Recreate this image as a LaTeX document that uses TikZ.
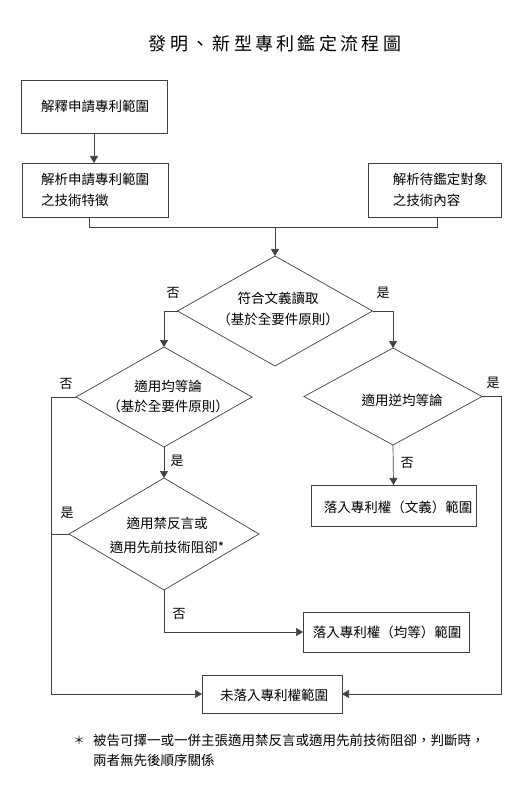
\documentclass[tikz,border=0pt]{standalone}
\usepackage{fontspec}
\setmainfont{Noto Sans CJK TC}
\usetikzlibrary{shapes.geometric,arrows.meta}
\newcommand{\tc}[1]{\makebox[21.3pt]{#1}}
\tikzset{
  ln/.style={draw=black!75, line width=0.7pt},
  arr/.style={ln, -{Triangle[length=7pt,width=8pt]}},
  box/.style={draw=black!75, line width=0.7pt, rectangle, inner sep=0pt, outer sep=0pt},
  dia/.style={draw=black!75, line width=0.7pt, diamond, inner sep=0pt, outer sep=0pt},
  txt/.style={font=\fontsize{13.5pt}{21pt}\selectfont, align=center, inner sep=0pt},
  lbl/.style={font=\fontsize{13pt}{13pt}\selectfont, inner sep=0pt}
}
\begin{document}
\begin{tikzpicture}[x=1pt,y=-1pt]
\useasboundingbox (0,0) rectangle (531,791);
% title
\node[inner sep=0pt, font=\fontsize{18pt}{18pt}\selectfont] (title) at (275,44)
  {\tc{發}\tc{明}\tc{、}\tc{新}\tc{型}\tc{專}\tc{利}\tc{鑑}\tc{定}\tc{流}\tc{程}\tc{圖}};
% boxes
\node[box, minimum width=146pt, minimum height=53pt] (b1) at (94,106.5) {};
\node[txt] (t1) at (95,106.5) {解釋申請專利範圍};
\node[box, minimum width=146pt, minimum height=54pt] (b2) at (95,190) {};
\node[txt, align=left] (t2) at (95,190) {解析申請專利範圍\\之技術特徵};
\node[box, minimum width=133pt, minimum height=54pt] (b3) at (434.5,190) {};
\node[txt, align=left] (t3) at (440,190) {解析待鑑定對象\\之技術內容};
% diamonds
\node[dia, minimum width=195pt, minimum height=110pt] (d1) at (275,311) {};
\node[txt] (t4) at (278,309) {符合文義讀取\\（基於全要件原則）};
\node[dia, minimum width=176pt, minimum height=100pt] (d2) at (164,397) {};
\node[txt, font=\fontsize{13.5pt}{20pt}\selectfont] (t5) at (168,396) {適用均等論\\（基於全要件原則）};
\node[dia, minimum width=178pt, minimum height=97pt] (d3) at (393,396.5) {};
\node[txt] (t6) at (402,400) {適用逆均等論};
\node[dia, minimum width=190pt, minimum height=112pt] (d4) at (164,534) {};
\node[txt, font=\fontsize{13.5pt}{24pt}\selectfont] (t7) at (167,535) {適用禁反言或\\適用先前技術阻卻*};
% result boxes
\node[box, minimum width=165pt, minimum height=41pt] (b4) at (393.5,505.5) {};
\node[txt] (t8) at (398,507) {落入專利權（文義）範圍};
\node[box, minimum width=166pt, minimum height=40pt] (b5) at (386,632) {};
\node[txt] (t9) at (387,632) {落入專利權（均等）範圍};
\node[box, minimum width=140pt, minimum height=38pt] (b6) at (272,694) {};
\node[txt] (t10) at (274,695) {未落入專利權範圍};
% helper coordinates
\coordinate (j) at (275,227);
\coordinate (cl) at (51,694);
\coordinate (cr) at (501,694);
% connectors
\draw[arr] (b1.south) -- (b1.south |- b2.north);
\draw[ln] (b2.south -| 89,0) |- (j);
\draw[ln] (b3.south -| 437,0) |- (j);
\draw[arr] (j) -- (d1.north);
\draw[arr] (d1.west) -| (d2.north);
\draw[arr] (d1.east) -| (d3.north);
\draw[arr] (d2.south) -- (d4.north);
\draw[arr] (d3.south) -- (b4.north);
\draw[arr] (d4.south) |- (b5.west);
\draw[arr] (d2.west) -| (cl) -- (b6.west);
\draw[ln] (d4.west) -- (d4.west -| cl);
\draw[arr] (d3.east) -| (cr) -- (b6.east);
% labels
\node[lbl] (l1) at (173,293) {否};
\node[lbl] (l2) at (383,293) {是};
\node[lbl] (l3) at (66,384) {否};
\node[lbl] (l4) at (177,461) {是};
\node[lbl] (l5) at (493,383) {是};
\node[lbl] (l6) at (407,463) {否};
\node[lbl] (l7) at (67,513) {是};
\node[lbl] (l8) at (179,614) {否};
% footnote
\node[lbl, font=\fontsize{11pt}{11pt}\selectfont] (star) at (79,740.5) {＊};
\node[txt, align=left, anchor=north west, font=\fontsize{13.5pt}{20pt}\selectfont] (fn) at (93,734)
  {被告可擇一或一併主張適用禁反言或適用先前技術阻卻，判斷時，\\兩者無先後順序關係};
\end{tikzpicture}
\end{document}
